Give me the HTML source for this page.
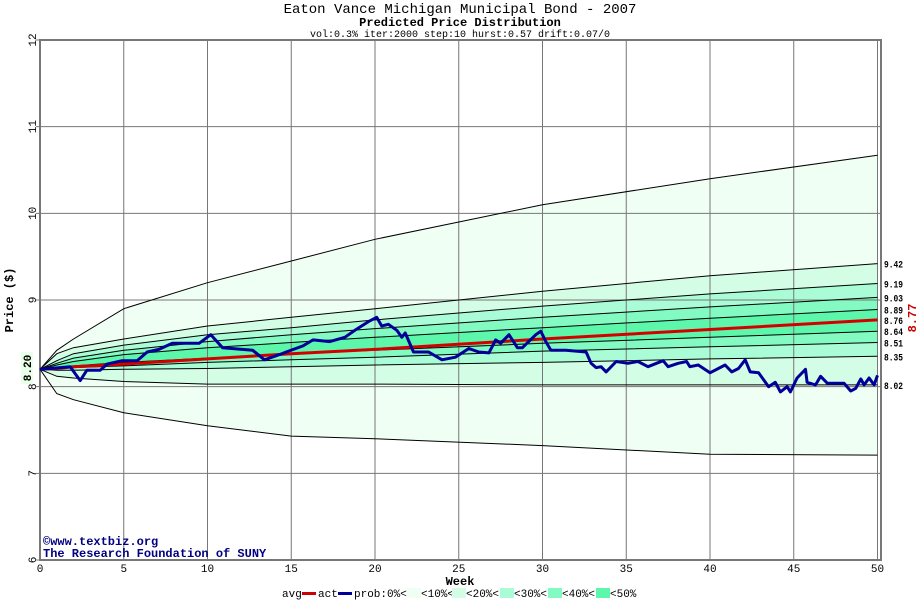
<!DOCTYPE html>
<html><head><meta charset="utf-8"><style>
body{margin:0;background:#fff;}
svg text{font-family:"Liberation Mono","DejaVu Sans Mono",monospace;}
</style></head><body>
<svg id="chart" width="920" height="600" xmlns="http://www.w3.org/2000/svg">
<text x="460" y="13" text-anchor="middle" font-size="14" fill="#000">Eaton Vance Michigan Municipal Bond - 2007</text>
<text x="460" y="26" text-anchor="middle" font-size="12" font-weight="bold" fill="#000">Predicted Price Distribution</text>
<text x="460" y="37" text-anchor="middle" font-size="10" fill="#000">vol:0.3% iter:2000 step:10 hurst:0.57 drift:0.07/0</text>
<g id="bands"></g><g id="grid"></g><g id="lines"></g>
<text x="43" y="545" font-size="12" font-weight="bold" fill="#000080">©www.textbiz.org</text>
<text x="43" y="557" font-size="12" font-weight="bold" fill="#000080">The Research Foundation of SUNY</text>
<text x="460" y="585" text-anchor="middle" font-size="12" font-weight="bold">Week</text>
<text transform="translate(13,300) rotate(-90)" text-anchor="middle" font-size="12" font-weight="bold">Price ($)</text>
<rect x="21" y="352" width="12" height="32" fill="#e8ffe8"/>
<text transform="translate(31,368) rotate(-90)" text-anchor="middle" font-size="11" font-weight="bold">8.20</text>
<text transform="translate(916,318) rotate(-90)" text-anchor="middle" font-size="12" font-weight="bold" fill="#cc0000">8.77</text>
<g id="legend" font-size="11">
<text x="282" y="597">avg</text><rect x="302" y="592" width="14" height="3" fill="#cc0000"/>
<text x="318" y="597">act</text><rect x="338" y="592" width="14" height="3" fill="#000099"/>
<text x="354" y="597">prob:0%&lt;</text><rect x="407" y="588" width="14" height="10" fill="#f0fff4"/>
<text x="421" y="597">&lt;10%&lt;</text><rect x="452" y="588" width="14" height="10" fill="#d4fde6"/>
<text x="466" y="597">&lt;20%&lt;</text><rect x="500" y="588" width="14" height="10" fill="#aafcd6"/>
<text x="514" y="597">&lt;30%&lt;</text><rect x="548" y="588" width="14" height="10" fill="#82fac2"/>
<text x="562" y="597">&lt;40%&lt;</text><rect x="596" y="588" width="14" height="10" fill="#5cf7aa"/>
<text x="610" y="597">&lt;50%</text>
</g>
</svg>
<script>
const NS="http://www.w3.org/2000/svg";
const bandWeeks=[0,1,2,5,10,15,20,30,40,50];
const pUpperExt=[8.2,8.42,8.55,8.9,9.2,9.45,9.7,10.1,10.4,10.67];
const p10Up=[8.2,8.38,8.45,8.55,8.7,8.8,8.9,9.1,9.28,9.42];
const p20Up=[8.2,8.3,8.38,8.48,8.6,8.68,8.77,8.93,9.07,9.19];
const p30Up=[8.2,8.27,8.33,8.42,8.52,8.6,8.67,8.8,8.92,9.03];
const p40Up=[8.2,8.25,8.29,8.37,8.45,8.51,8.57,8.68,8.79,8.89];
const avgLine=[8.2,8.21,8.23,8.26,8.32,8.38,8.43,8.55,8.66,8.77];
const p40Lo=[8.2,8.22,8.24,8.28,8.33,8.38,8.42,8.5,8.57,8.64];
const p30Lo=[8.2,8.21,8.22,8.24,8.28,8.31,8.34,8.41,8.46,8.51];
const p20Lo=[8.2,8.19,8.19,8.2,8.21,8.23,8.25,8.28,8.32,8.35];
const p10Lo=[8.2,8.12,8.1,8.06,8.03,8.03,8.03,8.02,8.02,8.02];
const pLowerExt=[8.2,7.92,7.85,7.7,7.55,7.43,7.4,7.32,7.22,7.21];
const endLabels=["9.42","9.19","9.03","8.89","8.76","8.64","8.51","8.35","8.02"];
const actWeeks=[0,0.1,1.8,2.4,2.8,3.6,4.0,4.9,5.8,6.4,7.1,7.9,9.5,10.2,10.9,12.7,13.4,14.3,14.7,15.7,16.3,17.3,18.2,18.8,19.6,20.1,20.4,20.8,21.3,21.6,21.8,22.3,23.2,24.0,24.8,25.6,26.2,26.8,27.2,27.5,28.0,28.5,28.8,29.6,29.9,30.2,30.5,31.4,32.6,32.9,33.2,33.5,33.8,34.4,35.1,35.7,36.3,37.2,37.5,38.1,38.6,38.8,39.3,40.0,40.9,41.3,41.7,42.1,42.4,42.9,43.5,43.9,44.2,44.6,44.8,45.2,45.7,45.8,46.3,46.6,47.0,48.0,48.4,48.7,49.0,49.2,49.5,49.8,50.0];
const actPrices=[8.2,8.2,8.23,8.07,8.19,8.19,8.26,8.3,8.3,8.4,8.43,8.5,8.5,8.6,8.45,8.42,8.31,8.37,8.4,8.47,8.54,8.52,8.57,8.65,8.75,8.8,8.7,8.72,8.65,8.57,8.62,8.4,8.4,8.31,8.34,8.44,8.4,8.39,8.54,8.5,8.6,8.45,8.45,8.6,8.64,8.52,8.42,8.42,8.4,8.27,8.22,8.23,8.17,8.29,8.27,8.29,8.23,8.3,8.23,8.27,8.29,8.23,8.25,8.16,8.25,8.17,8.21,8.31,8.17,8.16,8.0,8.05,7.94,8.0,7.94,8.1,8.2,8.05,8.02,8.12,8.04,8.04,7.95,7.98,8.09,8.02,8.1,8.02,8.13];
const xTicks=[0,5,10,15,20,25,30,35,40,45,50];
const yTicks=[6,7,8,9,10,11,12];
const X0=40,XW=16.75,Y0=560,YH=86.67;
const xs=w=>X0+w*XW, ys=p=>Y0-(p-6)*YH;
const svg=document.getElementById('chart');
const bands=document.getElementById('bands'),grid=document.getElementById('grid'),lines=document.getElementById('lines');
function mk(tag,attrs,parent){const e=document.createElementNS(NS,tag);for(const k in attrs)e.setAttribute(k,attrs[k]);parent.appendChild(e);return e;}
function pts(arr){return arr.map((p,i)=>xs(bandWeeks[i]).toFixed(1)+","+ys(p).toFixed(1));}
const order=[pUpperExt,p10Up,p20Up,p30Up,p40Up,avgLine,p40Lo,p30Lo,p20Lo,p10Lo,pLowerExt];
const fills=["#f0fff4","#d4fde6","#aafcd6","#82fac2","#5cf7aa","#5cf7aa","#82fac2","#aafcd6","#d4fde6","#f0fff4"];
for(let i=0;i<order.length-1;i++){
 const a=pts(order[i]),b=pts(order[i+1]).reverse();
 const poly=mk('polygon',{points:a.concat(b).join(' '),fill:fills[i]},bands);
 
 
}
xTicks.forEach(w=>{
 const l=mk('line',{x1:xs(w),x2:xs(w),y1:40,y2:560,stroke:'#777','stroke-width':1},grid);
 
 
 const t=mk('text',{x:xs(w),y:572,'text-anchor':'middle','font-size':11},grid);t.textContent=w;
 
 
});
yTicks.forEach(p=>{
 const l=mk('line',{x1:36,x2:881,y1:ys(p),y2:ys(p),stroke:'#777','stroke-width':1},grid);
 
 
 const t=mk('text',{transform:`translate(36,${ys(p)}) rotate(-90)`,'text-anchor':'middle','font-size':11},grid);t.textContent=p;
 
 
});
const border=mk('rect',{x:40,y:40,width:841,height:520,fill:'none',stroke:'#777','stroke-width':2},grid);


[pUpperExt,p10Up,p20Up,p30Up,p40Up,p40Lo,p30Lo,p20Lo,p10Lo,pLowerExt].forEach(arr=>{
 const pl=mk('polyline',{points:pts(arr).join(' '),fill:'none',stroke:'#000','stroke-width':1},lines);
 
 
});
const avg=mk('polyline',{points:pts(avgLine).join(' '),fill:'none',stroke:'#d40000','stroke-width':3},lines);


const act=mk('polyline',{points:actWeeks.map((w,i)=>xs(w).toFixed(1)+","+ys(actPrices[i]).toFixed(1)).join(' '),fill:'none',stroke:'#000099','stroke-width':3,'stroke-linejoin':'round'},lines);


[p10Up,p20Up,p30Up,p40Up,avgLine,p40Lo,p30Lo,p20Lo,p10Lo].forEach((arr,i)=>{
 const t=mk('text',{x:884,y:ys(arr[arr.length-1])+4,'font-size':10,'font-weight':'bold','textLength':19,'lengthAdjust':'spacingAndGlyphs'},lines);
 t.textContent=endLabels[i];
 
 
});
</script>
</body></html>
